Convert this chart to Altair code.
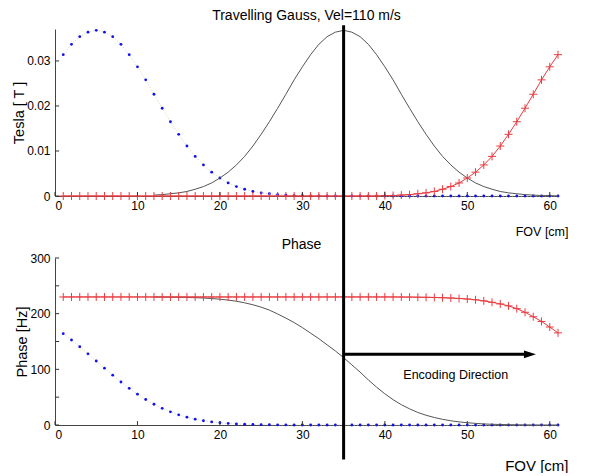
import altair as alt
import pandas as pd

# ---------------- data ----------------
fov = list(range(1, 62))

tesla_blue = [0.0314, 0.0337, 0.0354, 0.0364, 0.0368, 0.0364, 0.0354, 0.0337, 0.0314, 0.0287,
              0.0258, 0.0226, 0.0195, 0.0165, 0.0137, 0.0111, 0.0088, 0.0069, 0.0053, 0.0040,
              0.0029, 0.0021, 0.0015, 0.0010, 0.0007, 0.0005, 0.0003, 0.0002, 0.0001, 0.0001,
              0, 0, 0, 0, 0, 0, 0, 0, 0, 0,
              0, 0, 0, 0, 0, 0, 0, 0, 0, 0,
              0, 0, 0, 0, 0, 0, 0, 0, 0, 0, 0]

tesla_red = [0, 0, 0, 0, 0, 0, 0, 0, 0, 0,
             0, 0, 0, 0, 0, 0, 0, 0, 0, 0,
             0, 0, 0, 0, 0, 0, 0, 0, 0, 0,
             0, 0, 0, 0, 0, 0, 0, 0, 0,
             0.0001, 0.0001, 0.0002, 0.0003, 0.0005, 0.0007, 0.0010, 0.0015, 0.0021, 0.0029,
             0.0040, 0.0053, 0.0069, 0.0088, 0.0111, 0.0137, 0.0165, 0.0195, 0.0226, 0.0258,
             0.0287, 0.0314]

fov_black = list(range(12, 62))
tesla_black = [0.0002, 0.0003, 0.0005, 0.0007, 0.0010, 0.0015, 0.0021, 0.0029, 0.0040, 0.0053,
               0.0069, 0.0088, 0.0111, 0.0137, 0.0165, 0.0195, 0.0226, 0.0258, 0.0287, 0.0314,
               0.0337, 0.0354, 0.0364, 0.0368, 0.0364, 0.0354, 0.0337, 0.0314, 0.0287, 0.0258,
               0.0226, 0.0195, 0.0165, 0.0137, 0.0111, 0.0088, 0.0069, 0.0053, 0.0040, 0.0029,
               0.0021, 0.0015, 0.0010, 0.0007, 0.0005, 0.0003, 0.0002, 0.0001, 0.0001, 0.0]

phase_blue = [164.1, 152.7, 140.5, 127.9, 115.0, 102.1, 89.5, 77.3, 65.9, 55.4,
              45.8, 37.3, 29.9, 23.6, 18.3, 14.0, 10.5, 7.7, 5.6, 4.0,
              2.8, 1.9, 1.3, 0.9, 0.6, 0.4, 0.2, 0.1, 0, 0,
              0, 0, 0, 0, 0, 0, 0, 0, 0, 0,
              0, 0, 0, 0, 0, 0, 0, 0, 0, 0,
              0, 0, 0, 0, 0, 0, 0, 0, 0, 0, 0]

phase_red = [230, 230, 230, 230, 230, 230, 230, 230, 230, 230,
             230, 230, 230, 230, 230, 230, 230, 230, 230, 230,
             230, 230, 230, 230, 230, 230, 230, 230, 230, 230,
             230, 230, 230, 230, 230, 230, 230, 230, 230, 230, 230,
             229.9, 229.8, 229.6, 229.4, 229.1, 228.7, 228.1, 227.3, 226.3, 225.0,
             223.0, 220.5, 217.5, 214.0, 209.0, 202.5, 194.5, 186.0, 176.0, 165.5]

phase_black = [229.9, 229.8, 229.6, 229.4, 229.1, 228.7, 228.1, 227.2, 226.0, 224.4,
               222.3, 219.5, 216.0, 211.7, 206.4, 199.5, 192.0, 184.0, 175.0, 165.0,
               155.0, 144.0, 133.0, 121.0, 108.0, 95.0, 81.0, 68.0, 56.0, 45.5,
               36.5, 29.0, 22.5, 17.5, 13.5, 10.2, 7.6, 5.6, 4.1, 2.9,
               1.9, 1.3, 0.9, 0.6, 0.4, 0.2, 0.1, 0, 0, 0]

x_ticks = [0, 10, 20, 30, 40, 50, 60]
tesla_ticks = [0, 0.01, 0.02, 0.03]
phase_ticks = [0, 50, 100, 150, 200, 250, 300]

marker_x = 35
arrow_level = 127
arrow_end = 57.6

# ---------------- styling ----------------
BLUE = "#1010f0"
RED = "#e83c40"
GREY = "#555555"
DOT = "#d6d6a8"
AXC = "#444444"
PLUS = "M-1,0L1,0M0,-1L0,1"
HEAD = "M-1,-0.65L1,0L-1,0.65Z"

W, H = 503, 167

top_df = pd.DataFrame({"x": fov, "blue": tesla_blue, "red": tesla_red})
top_black = pd.DataFrame({"x": fov_black, "v": tesla_black})
bot_df = pd.DataFrame({"x": fov, "blue": phase_blue, "red": phase_red})
bot_black = pd.DataFrame({"x": fov_black, "v": phase_black})
xt_df = pd.DataFrame({"t": x_ticks})


def xenc(field, title_size, title_y):
    return alt.X(field, type="quantitative",
                 scale=alt.Scale(domain=[0, 61], nice=False, zero=False),
                 axis=alt.Axis(values=x_ticks, ticks=False, grid=False, labelFontSize=12,
                               labelPadding=4, labelColor="black", domainColor=AXC,
                               title="FOV [cm]", titleFontSize=title_size,
                               titleFontWeight="normal", titleX=513, titleY=title_y,
                               titleAlign="right", titleBaseline="middle",
                               titleColor="black"))


def yenc(field, domain, ticks, title, lab_expr=None):
    kw = dict(values=ticks, ticks=False, grid=False, labelFontSize=12, labelPadding=5,
              labelColor="black", domainColor=AXC, title=title, titleFontSize=14.5,
              titleFontWeight="normal", titlePadding=0, titleColor="black")
    if lab_expr:
        kw["labelExpr"] = lab_expr
    return alt.Y(field, type="quantitative",
                 scale=alt.Scale(domain=domain, nice=False, zero=False),
                 axis=alt.Axis(**kw))


def panel(df, black, domain, ticks, ytitle, xtitle_size, xtitle_y, tick_len, extra,
          title=None, lab_expr=None):
    X = xenc("x", xtitle_size, xtitle_y)
    base = alt.Chart(df)
    blue_line = base.mark_line(color=DOT, strokeDash=[1, 2], strokeWidth=1).encode(
        x=X, y=yenc("blue", domain, ticks, ytitle, lab_expr))
    blue_pts = base.mark_point(filled=True, shape="circle", size=8, color=BLUE,
                               opacity=1).encode(x="x:Q", y="blue:Q")
    blk = alt.Chart(black).mark_line(color=GREY, strokeWidth=1).encode(x="x:Q", y="v:Q")
    red_line = base.mark_line(color=RED, strokeWidth=1).encode(x="x:Q", y="red:Q")
    red_pts = base.mark_point(shape=PLUS, filled=False, size=64, color=RED,
                              strokeWidth=1, opacity=1).encode(x="x:Q", y="red:Q")
    xt = alt.Chart(xt_df).mark_rule(color="#333", strokeWidth=1).encode(
        x="t:Q", y=alt.datum(0), y2=alt.datum(tick_len[0]))
    yt = alt.Chart(pd.DataFrame({"t": ticks})).mark_rule(color="#333", strokeWidth=1).encode(
        y="t:Q", x=alt.datum(0), x2=alt.datum(tick_len[1]))
    layers = [blue_line, blue_pts, blk, red_line, red_pts, xt, yt] + extra
    props = dict(width=W, height=H)
    if title:
        props["title"] = alt.TitleParams(title, fontSize=14, fontWeight="normal",
                                         frame="group", offset=5, color="black")
    return alt.layer(*layers).properties(**props)


top = panel(top_df, top_black, [0, 0.0371], tesla_ticks, "Tesla [ T ]", 12.5, 35,
            (0.0009, 0.5), [], title="Travelling Gauss, Vel=110 m/s",
            lab_expr="datum.value == 0 ? '0' : format(datum.value, '.2f')")

vline = alt.Chart(pd.DataFrame({"p": [marker_x]})).mark_rule(
    color="black", strokeWidth=3).encode(x="p:Q", y=alt.datum(718), y2=alt.datum(-62))
shaft = alt.Chart(pd.DataFrame({"a": [marker_x], "b": [arrow_end], "l": [arrow_level]})).mark_rule(
    color="black", strokeWidth=3).encode(x="a:Q", x2="b:Q", y="l:Q")
head = alt.Chart(pd.DataFrame({"b": [arrow_end], "l": [arrow_level]})).mark_point(
    shape=HEAD, filled=True, size=144, color="black", opacity=1).encode(x="b:Q", y="l:Q")
label = alt.Chart(pd.DataFrame({"x": [48.6], "y": [89], "t": ["Encoding Direction"]})).mark_text(
    fontSize=12.5, color="black").encode(x="x:Q", y="y:Q", text="t:N")
phase_title = alt.Chart(pd.DataFrame({"x": [29.9], "y": [324], "t": ["Phase"]})).mark_text(
    fontSize=14, color="black").encode(x="x:Q", y="y:Q", text="t:N")

bottom = panel(bot_df, bot_black, [0, 300], phase_ticks, "Phase [Hz]", 15, 40,
               (7, 0.5), [vline, shaft, head, label, phase_title])

chart = alt.vconcat(top, bottom, spacing=62, bounds="flush").properties(
    padding={"left": 3, "top": 1, "right": 5, "bottom": 0}
).configure(font="Liberation Sans").configure_view(stroke=None)

chart.save("out.html", embed_options={"renderer": "svg", "actions": False})
